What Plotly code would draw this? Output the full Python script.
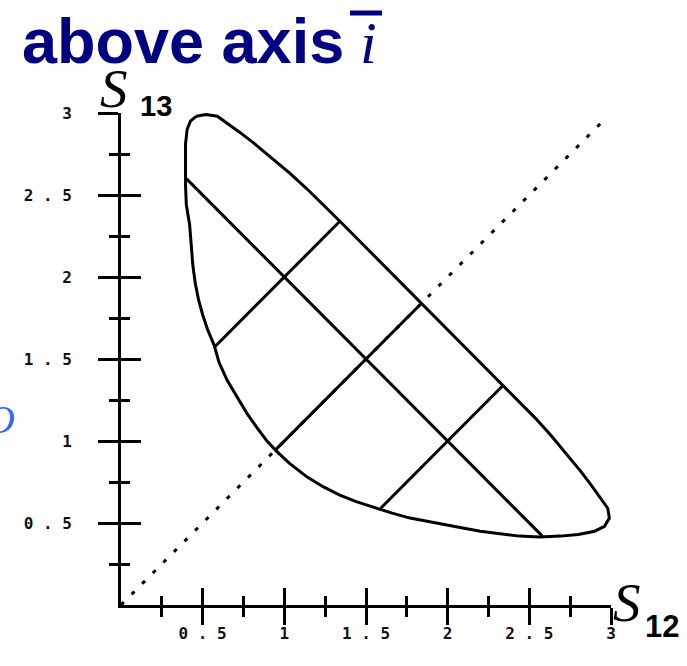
import plotly.graph_objects as go

# Stress-space contour in the (S12, S13) plane, closed outline (clockwise from the top)
contour_s12 = [0.46, 0.52, 0.59, 0.655, 0.73, 0.815, 0.925, 1.033, 1.138, 1.24, 1.34, 1.465,
               1.59, 1.715, 1.84, 1.965, 2.09, 2.215, 2.34, 2.44, 2.538, 2.633, 2.725, 2.815,
               2.88, 2.935, 2.98, 2.99, 2.96, 2.90, 2.80, 2.69, 2.56, 2.44, 2.35, 2.20, 2.06,
               1.89, 1.77, 1.66, 1.57, 1.44, 1.34, 1.24, 1.14, 1.03, 0.95, 0.89, 0.83, 0.77,
               0.71, 0.65, 0.60, 0.57, 0.53, 0.50, 0.475, 0.455, 0.44, 0.43, 0.42, 0.40, 0.395,
               0.395, 0.395, 0.405, 0.425, 0.46]
contour_s13 = [2.98, 2.99, 2.98, 2.935, 2.88, 2.815, 2.725, 2.633, 2.538, 2.44, 2.34, 2.215,
               2.09, 1.965, 1.84, 1.715, 1.59, 1.465, 1.34, 1.24, 1.138, 1.033, 0.925, 0.815,
               0.73, 0.655, 0.59, 0.53, 0.48, 0.45, 0.43, 0.42, 0.415, 0.42, 0.43, 0.45, 0.475,
               0.505, 0.53, 0.56, 0.59, 0.63, 0.67, 0.72, 0.78, 0.865, 0.94, 1.005, 1.085, 1.17,
               1.27, 1.37, 1.48, 1.585, 1.68, 1.77, 1.86, 1.96, 2.07, 2.195, 2.32, 2.44, 2.56,
               2.68, 2.81, 2.90, 2.95, 2.98]

# Long chord along S12 + S13 = 3
major_chord_s12 = [0.40, 2.58]
major_chord_s13 = [2.60, 0.42]

# Short chords perpendicular to it (through (1,2), (1.5,1.5), (2,1))
cross_chords_s12 = [[0.57, 1.34], [0.94, 1.84], [1.59, 2.34]]
cross_chords_s13 = [[1.57, 2.34], [0.94, 1.84], [0.59, 1.34]]

# Dotted bisector S12 = S13
bisector_s12 = [0.0, 2.97]
bisector_s13 = [0.0, 2.97]

major_ticks = [0.5, 1.0, 1.5, 2.0, 2.5, 3.0]
major_labels = ["0\u2009.\u20095", "1", "1\u2009.\u20095", "2", "2\u2009.\u20095", "3"]
minor_ticks = [0.25, 0.75, 1.25, 1.75, 2.25, 2.75]

INK = "black"
LW = 3

fig = go.Figure()

fig.add_trace(go.Scatter(x=bisector_s12, y=bisector_s13, mode="lines",
                         line=dict(color=INK, width=3, dash="4px,11px"),
                         hoverinfo="skip"))
fig.add_trace(go.Scatter(x=contour_s12, y=contour_s13, mode="lines",
                         line=dict(color=INK, width=LW), hoverinfo="skip"))
fig.add_trace(go.Scatter(x=major_chord_s12, y=major_chord_s13, mode="lines",
                         line=dict(color=INK, width=LW), hoverinfo="skip"))
for cx, cy in zip(cross_chords_s12, cross_chords_s13):
    fig.add_trace(go.Scatter(x=cx, y=cy, mode="lines",
                             line=dict(color=INK, width=LW), hoverinfo="skip"))

# invisible trace so the overlay axes (inner halves of the ticks) get drawn
fig.add_trace(go.Scatter(x=[None], y=[None], xaxis="x2", yaxis="y2",
                         mode="lines", hoverinfo="skip"))

tick_font = dict(family="DejaVu Sans Mono", size=16, color="#111111", weight="bold")

common = dict(range=[0, 3], showgrid=False, zeroline=False, fixedrange=True)

fig.update_layout(
    width=687, height=666,
    margin=dict(l=121, r=76, t=113, b=61),
    paper_bgcolor="white", plot_bgcolor="white",
    showlegend=False,
    xaxis=dict(**common, showline=True, linewidth=LW, linecolor=INK,
               tickmode="array", tickvals=major_ticks, ticktext=major_labels,
               ticks="outside", ticklen=17, tickwidth=LW, tickcolor=INK,
               tickfont=tick_font, ticklabelstandoff=-5,
               minor=dict(tickvals=minor_ticks, ticks="outside", ticklen=9,
                          tickwidth=LW, tickcolor=INK)),
    yaxis=dict(**common, showline=True, linewidth=LW, linecolor=INK,
               tickmode="array", tickvals=major_ticks, ticktext=major_labels,
               ticks="outside", ticklen=20, tickwidth=LW, tickcolor=INK,
               tickfont=tick_font, ticklabelstandoff=23,
               minor=dict(tickvals=minor_ticks, ticks="outside", ticklen=9,
                          tickwidth=LW, tickcolor=INK)),
    xaxis2=dict(**common, overlaying="x", anchor="y", side="bottom",
                showline=False, showticklabels=False,
                tickmode="array", tickvals=major_ticks,
                ticks="inside", ticklen=17, tickwidth=LW, tickcolor=INK,
                minor=dict(tickvals=minor_ticks, ticks="inside", ticklen=9,
                           tickwidth=LW, tickcolor=INK)),
    yaxis2=dict(**common, overlaying="y", anchor="x", side="left",
                showline=False, showticklabels=False,
                tickmode="array", tickvals=major_ticks,
                ticks="inside", ticklen=20, tickwidth=LW, tickcolor=INK,
                minor=dict(tickvals=minor_ticks, ticks="inside", ticklen=9,
                           tickwidth=LW, tickcolor=INK)),
)

NAVY = "#000080"
serif = "Liberation Serif"
sans = "Liberation Sans"

annotations = [
    # heading
    dict(text="<b>above axis</b>", x=0, xref="paper", xshift=-101, xanchor="left",
         y=1, yref="paper", yshift=72, yanchor="middle",
         font=dict(family=sans, size=63, color=NAVY)),
    dict(text="<i>i</i>", x=0, xref="paper", xshift=237, xanchor="left",
         y=1, yref="paper", yshift=70, yanchor="middle",
         font=dict(family=serif, size=60, color=NAVY)),
    # axis names
    dict(text="<i>S</i>", x=0, xref="paper", xshift=-23, xanchor="left",
         y=1, yref="paper", yshift=25, yanchor="middle",
         font=dict(family=serif, size=55, color=INK)),
    dict(text="<b>13</b>", x=0, xref="paper", xshift=17, xanchor="left",
         y=1, yref="paper", yshift=7, yanchor="middle",
         font=dict(family=sans, size=29, color=INK)),
    dict(text="<i>S</i>", x=1, xref="paper", xshift=0, xanchor="left",
         y=0, yref="paper", yshift=3, yanchor="middle",
         font=dict(family=serif, size=55, color=INK)),
    dict(text="<b>12</b>", x=1, xref="paper", xshift=32, xanchor="left",
         y=0, yref="paper", yshift=-21, yanchor="middle",
         font=dict(family=sans, size=31, color=INK)),
    # partially visible side symbol
    dict(text="<i>O</i>", x=0, xref="paper", xshift=-104, xanchor="right",
         y=0, yref="paper", yshift=186, yanchor="middle",
         font=dict(family=serif, size=40, color="#3366ff")),
]
for a in annotations:
    a["showarrow"] = False
fig.update_layout(annotations=annotations)

# macron over the heading's i
fig.add_shape(type="line", xref="paper", yref="paper",
              x0=(350 - 121) / 490, x1=(382 - 121) / 490,
              y0=(605 - 13) / 492, y1=(605 - 13) / 492,
              line=dict(color=NAVY, width=5))

fig.write_html("out.html")
